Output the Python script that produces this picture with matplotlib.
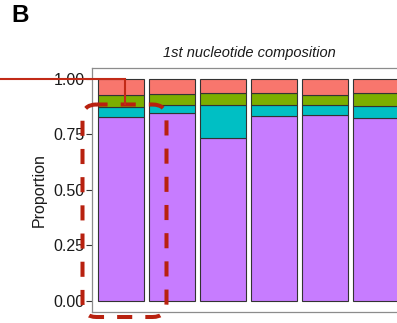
import numpy as np
import matplotlib
matplotlib.use("Agg")
import matplotlib.pyplot as plt
from matplotlib.patches import FancyBboxPatch

plt.rcParams['font.family'] = ['Liberation Sans', 'DejaVu Sans']

# stacked proportions per sample (bottom -> top)
samples = ['S1', 'S2', 'S3', 'S4', 'S5', 'S6']
prop_U = [0.828, 0.846, 0.735, 0.833, 0.839, 0.824]
prop_G = [0.044, 0.034, 0.149, 0.047, 0.041, 0.053]
prop_C = [0.056, 0.051, 0.053, 0.057, 0.049, 0.057]
prop_A = [0.072, 0.069, 0.063, 0.063, 0.071, 0.066]
yticks = [0.00, 0.25, 0.50, 0.75, 1.00]

cols = {'A': '#F8766D', 'C': '#7CAE00', 'G': '#00BFC4', 'U': '#C77CFF'}

W, H = 397, 323
fig = plt.figure(figsize=(W / 100, H / 100), dpi=100)

# main panel (extends past the right edge, like the cropped original)
unit = 51.0
x0 = 0.425
x1 = 6.6
left_px, top_px, bot_px = 91.7, 67.7, 311.7
ax = fig.add_axes([left_px / W, (H - bot_px) / H,
                   (x1 - x0) * unit / W, (bot_px - top_px) / H])

x = np.arange(1, len(samples) + 1)
bottom = np.zeros(len(samples))
for key, vals in [('U', prop_U), ('G', prop_G), ('C', prop_C), ('A', prop_A)]:
    ax.bar(x, vals, width=0.9, bottom=bottom, color=cols[key],
           edgecolor='#333333', linewidth=0.8)
    bottom += np.array(vals)

ax.set_xlim(x0, x1)
ax.set_ylim(-0.05, 1.05)
ax.set_xticks([])
ax.set_yticks(yticks)
ax.set_yticklabels(['%.2f' % v for v in yticks])
ax.tick_params(axis='y', labelsize=11.5, colors='#333333', length=4, width=0.8, pad=1)
ax.tick_params(axis='y', labelcolor='#1a1a1a')
for s in ax.spines.values():
    s.set_color('#8c8c8c')
    s.set_linewidth(0.9)
ax.set_ylabel('Proportion', fontsize=11.5, color='#1a1a1a', labelpad=5)

fig.text(249.5 / W, 1 - 53 / H, '1st nucleotide composition', fontsize=10.5,
         style='italic', ha='center', va='center', color='#1a1a1a')

# overlay annotations in pixel coordinates
ov = fig.add_axes([0, 0, 1, 1], zorder=10)
ov.set_xlim(0, W)
ov.set_ylim(H, 0)
ov.axis('off')
ov.patch.set_alpha(0)

ov.text(11.5, 22, 'B', fontsize=17.5, fontweight='bold', ha='left', va='baseline')

red = '#B8210F'
ov.plot([0, 125, 125], [78.5, 78.5, 104], color='#C22A17', lw=1.5,
        solid_joinstyle='miter')

box = FancyBboxPatch((82.5, 104.5), 166.5 - 82.5, 317 - 104.5,
                     boxstyle='round,pad=0,rounding_size=14',
                     fill=False, edgecolor=red, linewidth=2.9,
                     linestyle=(1, (3.75, 3.25)))
ov.add_patch(box)

fig.savefig('out.png', dpi=100)
